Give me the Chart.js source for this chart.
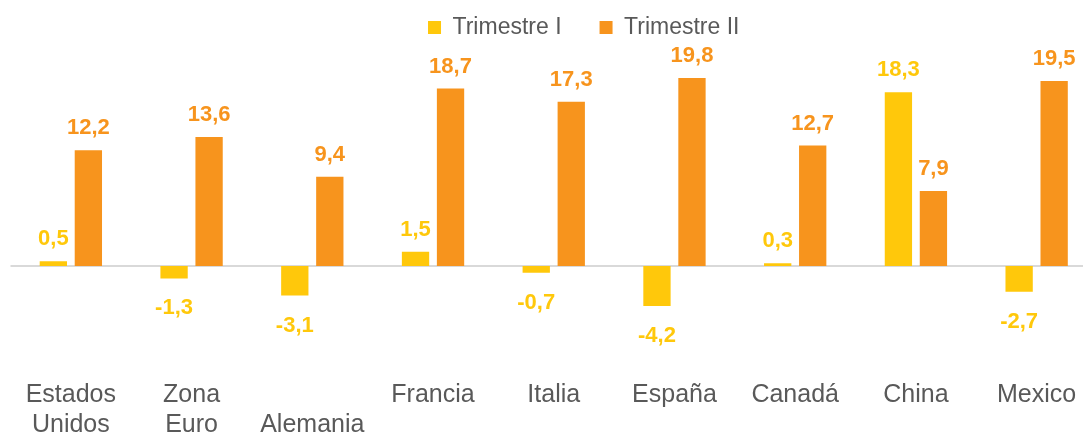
<!DOCTYPE html>
<html>
<head>
<meta charset="utf-8">
<script src="https://cdn.jsdelivr.net/npm/chart.js@4.4.1/dist/chart.umd.min.js"></script>
<style>
html,body{margin:0;padding:0;background:#ffffff;overflow:hidden;}
#wrap{position:relative;width:1100px;height:435px;}
</style>
</head>
<body>
<div id="wrap"><canvas id="c"></canvas></div>
<script>
// ---- data ----
const categories = [["Estados","Unidos"],["Zona","Euro"],["","Alemania"],"Francia","Italia","España","Canadá","China","Mexico"];
const seriesNames = ["Trimestre I","Trimestre II"];
const trimestre1 = [0.5,-1.3,-3.1,1.5,-0.7,-4.2,0.3,18.3,-2.7];
const trimestre2 = [12.2,13.6,9.4,18.7,17.3,19.8,12.7,7.9,19.5];

const YELLOW = "#FFC80B";
const ORANGE = "#F7941D";
const TEXT = "#595959";
Chart.defaults.font.family = '"Liberation Sans", Arial, sans-serif';

const zeroLine = {
  id: "zeroLine",
  beforeDatasetsDraw(chart) {
    const y = chart.scales.y.getPixelForValue(0);
    const ctx = chart.ctx;
    ctx.save();
    ctx.strokeStyle = "#D9D9D9";
    ctx.lineWidth = 2;
    ctx.beginPath();
    ctx.moveTo(chart.chartArea.left, y);
    ctx.lineTo(chart.width, y);
    ctx.stroke();
    ctx.restore();
  }
};

const valueLabels = {
  id: "valueLabels",
  afterDatasetsDraw(chart) {
    const ctx = chart.ctx;
    ctx.save();
    ctx.font = 'bold 22px "Liberation Sans", Arial, sans-serif';
    ctx.textAlign = "center";
    ctx.textBaseline = "alphabetic";
    chart.data.datasets.forEach((ds, i) => {
      const meta = chart.getDatasetMeta(i);
      meta.data.forEach((el, j) => {
        const v = ds.data[j];
        const txt = v.toFixed(1).replace(".", ",");
        ctx.fillStyle = ds.backgroundColor;
        if (v >= 0) ctx.fillText(txt, el.x, el.y - 16);
        else ctx.fillText(txt, el.x, el.y + 36);
      });
    });
    ctx.restore();
  }
};

const legendShift = {
  id: "legendShift",
  afterLayout(chart) {
    const l = chart.legend;
    if (!l) return;
    l.left += 30; l.right += 30;
    l.top -= 22; l.bottom -= 22;
  }
};

new Chart(document.getElementById("c"), {
  type: "bar",
  data: {
    labels: categories,
    datasets: [
      { label: seriesNames[0], data: trimestre1, backgroundColor: YELLOW, borderWidth: 0,
        categoryPercentage: 0.58, barPercentage: 0.78 },
      { label: seriesNames[1], data: trimestre2, backgroundColor: ORANGE, borderWidth: 0,
        categoryPercentage: 0.58, barPercentage: 0.78 }
    ]
  },
  options: {
    responsive: true,
    maintainAspectRatio: false,
    animation: false,
    layout: { padding: { left: 10.5, right: 3, top: 0, bottom: 0 } },
    plugins: {
      legend: {
        position: "top",
        labels: {
          boxWidth: 13, boxHeight: 13, padding: 38,
          color: TEXT, font: { size: 23 }
        }
      },
      tooltip: { enabled: false }
    },
    scales: {
      x: {
        grid: { display: false, drawTicks: false },
        border: { display: false },
        ticks: { color: TEXT, font: { size: 25, lineHeight: 1.2 }, padding: 19, maxRotation: 0, autoSkip: false },
        afterFit(scale) { scale.height = 74; }
      },
      y: {
        display: false,
        min: -10,
        max: 20.55
      }
    }
  },
  plugins: [zeroLine, valueLabels, legendShift]
});
</script>
</body>
</html>
